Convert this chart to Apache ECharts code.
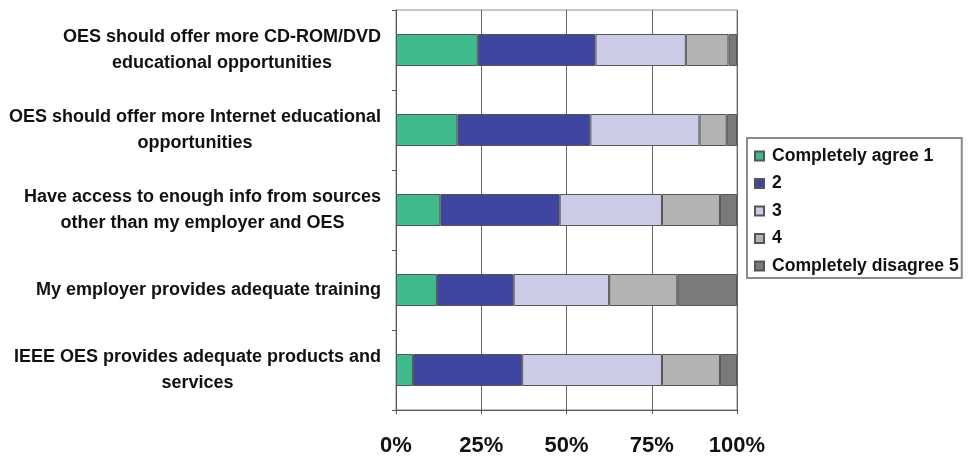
<!DOCTYPE html>
<html>
<head>
<meta charset="utf-8">
<script src="https://cdn.jsdelivr.net/npm/echarts@6/dist/echarts.min.js"></script>
<style>html,body{margin:0;padding:0;background:#fff;}#c{width:968px;height:458px;}</style>
</head>
<body>
<div id="c"></div>
<script>
var categories = [
  "OES should offer more CD-ROM/DVD\neducational opportunities",
  "OES should offer more Internet educational\nopportunities",
  "Have access to enough info from sources\nother than my employer and OES",
  "My employer provides adequate training",
  "IEEE OES provides adequate products and\nservices"
];
var seriesNames = ["Completely agree 1", "2", "3", "4", "Completely disagree 5"];
var agree1 =    [24, 18, 13, 12, 5];
var agree2 =    [34.5, 39, 35, 22.5, 32];
var neutral3 =  [26.5, 32, 30, 28, 41];
var disagree4 = [12.5, 8, 17, 20, 17];
var disagree5 = [2.5, 3, 5, 17.5, 5];
var tickLabels = ["0%", "25%", "50%", "75%", "100%"];

var colors = ["#3fba8c", "#3e46a2", "#cbcbe8", "#b3b3b3", "#7a7a7a"];
var values = [agree1, agree2, neutral3, disagree4, disagree5];
var FONT = 'Liberation Sans, Arial, sans-serif';

var chart = echarts.init(document.getElementById('c'));
var series = seriesNames.map(function (name, i) {
  return {
    name: name,
    type: 'bar',
    stack: 'total',
    barWidth: '40%',
    data: values[i],
    itemStyle: { color: colors[i], borderColor: '#555', borderWidth: 1 },
    emphasis: { disabled: true }
  };
});

chart.setOption({
  animation: false,
  grid: { left: 396, right: 231, top: 10, bottom: 48, show: true, borderColor: '#8a8a8a', borderWidth: 1, containLabel: false },
  legend: {
    orient: 'vertical',
    left: 747,
    top: 138,
    padding: [9, 3, 3, 7],
    itemGap: 9.5,
    itemWidth: 9,
    itemHeight: 9,
    icon: 'rect',
    borderColor: '#8a8a8a',
    borderWidth: 2,
    textStyle: { fontFamily: FONT, fontWeight: 'bold', fontSize: 17.6, color: '#111', padding: [0, 0, 0, 3] },
    data: seriesNames
  },
  xAxis: {
    type: 'value',
    min: 0,
    max: 100,
    interval: 25,
    axisLine: { show: true, lineStyle: { color: '#555', width: 1 } },
    axisTick: { show: true, length: 4, lineStyle: { color: '#555' } },
    splitLine: { show: true, lineStyle: { color: '#666', width: 1 } },
    axisLabel: {
      margin: 25,
      fontFamily: FONT,
      fontWeight: 'bold',
      fontSize: 22,
      color: '#111',
      formatter: function (v) { return tickLabels[Math.round(v / 25)]; }
    }
  },
  yAxis: {
    type: 'category',
    inverse: true,
    data: categories,
    axisLine: { show: true, lineStyle: { color: '#555', width: 1 } },
    axisTick: { show: true, length: 4, lineStyle: { color: '#555' } },
    splitLine: { show: false },
    axisLabel: {
      margin: 15,
      fontFamily: FONT,
      fontWeight: 'bold',
      fontSize: 18,
      color: '#111',
      formatter: function (v) {
        return v.split('\n').map(function (s) { return '{c|' + s + '}'; }).join('\n');
      },
      rich: {
        c: { align: 'center', lineHeight: 26, fontFamily: FONT, fontWeight: 'bold', fontSize: 18, color: '#111' }
      }
    }
  },
  series: series
});
</script>
</body>
</html>
